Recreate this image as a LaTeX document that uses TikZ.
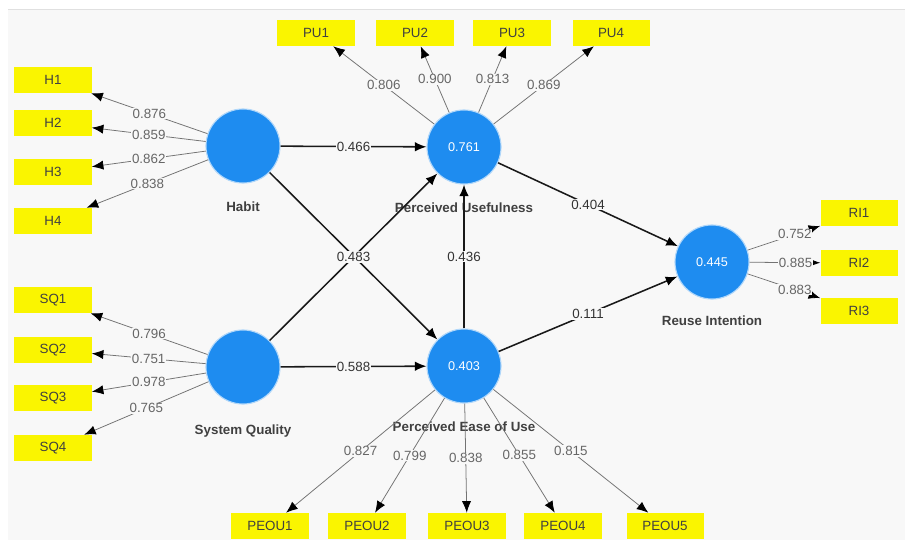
\documentclass[tikz,border=0pt]{standalone}
\usepackage{fontspec}
\setmainfont{Liberation Sans}
\usetikzlibrary{positioning,arrows.meta}
\definecolor{latentblue}{RGB}{30,140,240}
\definecolor{panelgray}{RGB}{248,248,248}
\definecolor{itemyellow}{RGB}{250,245,0}

\tikzset{
	latent/.style={circle, fill=latentblue, draw=latentblue!35!white, line width=0.8pt, minimum size=1.85cm, inner sep=0pt, text=white, font=\fontsize{9}{10}\selectfont},
	item/.style={rectangle, fill=itemyellow, minimum width=1.925cm, minimum height=0.65cm, inner sep=0pt, text=black!75, font=\fontsize{9.5}{11}\selectfont},
	lvname/.style={font=\fontsize{9.5}{11}\selectfont\bfseries, text=black!75},
	loading/.style={draw=black!55, line width=0.55pt, -{Latex[length=2.9mm,width=2.3mm,color=black]}},
	structural/.style={draw=black!90, line width=1.1pt, -{Latex[length=2.9mm,width=2.4mm,color=black]}},
	wt/.style={fill=panelgray, inner sep=0.6pt, text=black!60, font=\fontsize{9.5}{11}\selectfont},
	pathwt/.style={fill=panelgray, inner sep=0.6pt, text=black!80, font=\fontsize{9.5}{11}\selectfont}
}

\begin{document}
\begin{tikzpicture}[x=0.025cm, y=-0.025cm]
			\useasboundingbox (0,0) rectangle (905,545);
			\fill[panelgray] (8,9) rectangle (905,540);
			\draw[black!12] (8,9) -- (905,9);

			% constructs
			\node[latent] (habit) at (243,146) {};
			\node[latent] (sq) at (243,367) {};
			\node[latent] (pu) at (464,147) {0.761};
			\node[latent] (peou) at (464,366) {0.403};
			\node[latent] (ri) at (712,262) {0.445};
			\node[lvname, below=0.33cm of habit] (habitname) {Habit};
			\node[lvname, below=0.38cm of sq] (sqname) {System Quality};
			\node[lvname, below=0.33cm of pu] (puname) {Perceived Usefulness};
			\node[lvname, below=0.32cm of peou] (peouname) {Perceived Ease of Use};
			\node[lvname, below=0.28cm of ri] (riname) {Reuse Intention};

			% indicators
			\node[item] (h1) at (53,80) {H1};
			\node[item] (h2) at (53,123) {H2};
			\node[item] (h3) at (53,172) {H3};
			\node[item] (h4) at (53,221) {H4};
			\node[item] (sq1) at (53,300) {SQ1};
			\node[item] (sq2) at (53,350) {SQ2};
			\node[item] (sq3) at (53,398) {SQ3};
			\node[item] (sq4) at (53,448) {SQ4};
			\node[item] (pu1) at (316,33) {PU1};
			\node[item] (pu2) at (415,33) {PU2};
			\node[item] (pu3) at (512,33) {PU3};
			\node[item] (pu4) at (611,33) {PU4};
			\node[item] (peou1) at (270,526) {PEOU1};
			\node[item] (peou2) at (367,526) {PEOU2};
			\node[item] (peou3) at (467,526) {PEOU3};
			\node[item] (peou4) at (563,526) {PEOU4};
			\node[item] (peou5) at (665,526) {PEOU5};
			\node[item] (ri1) at (859,213) {RI1};
			\node[item] (ri2) at (859,263) {RI2};
			\node[item] (ri3) at (859,311) {RI3};

			% outer loadings
			\draw[loading] (habit) -- (h1) node[wt, midway] (lh1) {0.876};
			\draw[loading] (habit) -- (h2) node[wt, midway] (lh2) {0.859};
			\draw[loading] (habit) -- (h3) node[wt, midway] (lh3) {0.862};
			\draw[loading] (habit) -- (h4) node[wt, midway] (lh4) {0.838};
			\draw[loading] (sq) -- (sq1) node[wt, midway] (lsq1) {0.796};
			\draw[loading] (sq) -- (sq2) node[wt, midway] (lsq2) {0.751};
			\draw[loading] (sq) -- (sq3) node[wt, midway] (lsq3) {0.978};
			\draw[loading] (sq) -- (sq4) node[wt, midway] (lsq4) {0.765};
			\draw[loading] (pu) -- (pu1) node[wt, midway] (lpu1) {0.806};
			\draw[loading] (pu) -- (pu2) node[wt, midway] (lpu2) {0.900};
			\draw[loading] (pu) -- (pu3) node[wt, midway] (lpu3) {0.813};
			\draw[loading] (pu) -- (pu4) node[wt, midway] (lpu4) {0.869};
			\draw[loading] (peou) -- (peou1) node[wt, midway] (lpeou1) {0.827};
			\draw[loading] (peou) -- (peou2) node[wt, midway] (lpeou2) {0.799};
			\draw[loading] (peou) -- (peou3) node[wt, midway] (lpeou3) {0.838};
			\draw[loading] (peou) -- (peou4) node[wt, midway] (lpeou4) {0.855};
			\draw[loading] (peou) -- (peou5) node[wt, midway] (lpeou5) {0.815};
			\draw[loading] (ri) -- (ri1) node[wt, pos=0.65] (lri1) {0.752};
			\draw[loading] (ri) -- (ri2) node[wt, pos=0.65] (lri2) {0.885};
			\draw[loading] (ri) -- (ri3) node[wt, pos=0.65] (lri3) {0.883};

			% inner model
			\draw[structural] (habit) -- (pu) node[pathwt, midway] (p1) {0.466};
			\draw[structural] (sq) -- (peou) node[pathwt, midway] (p2) {0.588};
			\draw[structural] (habit) -- (peou);
			\draw[structural] (sq) -- (pu) node[pathwt, midway] (p3) {0.483};
			\draw[structural] (peou) -- (pu) node[pathwt, midway] (p4) {0.436};
			\draw[structural] (pu) -- (ri) node[pathwt, midway] (p5) {0.404};
			\draw[structural] (peou) -- (ri) node[pathwt, midway] (p6) {0.111};
		\end{tikzpicture}
\end{document}
